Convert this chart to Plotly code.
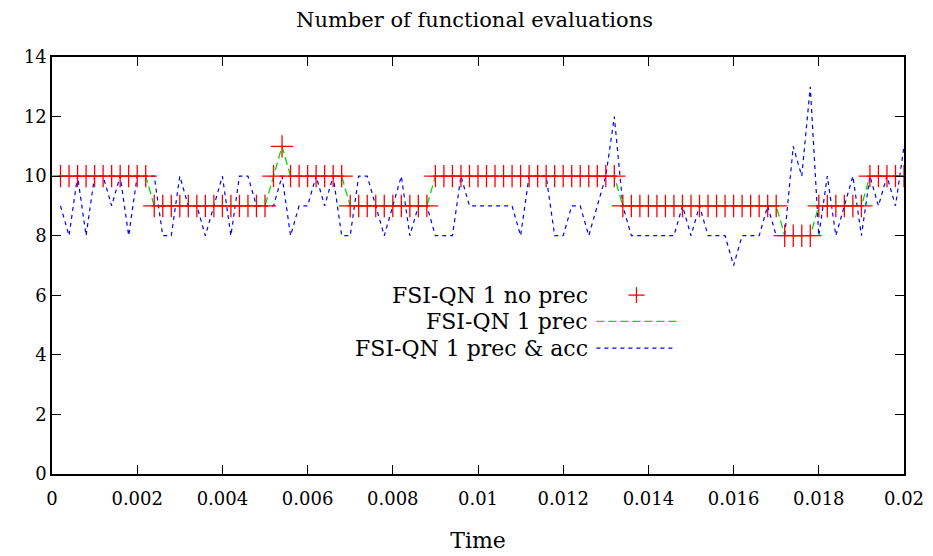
import plotly.graph_objects as go

# Time steps (s)
time = [round(0.0002 * i, 4) for i in range(1, 101)]

no_prec = ([10] * 11 + [9] * 14 + [10, 11] + [10] * 7 + [9] * 10 + [10] * 22 +
           [9] * 19 + [8] * 4 + [9] * 6 + [10] * 5)
prec = list(no_prec)
prec_acc = [9, 8, 10, 8, 10, 10, 9, 10, 8, 10,
            10, 10, 8, 8, 10, 9, 9, 8, 9, 10,
            8, 10, 10, 9, 9, 9, 10, 8, 9, 9,
            10, 9, 10, 8, 8, 10, 10, 9, 8, 9,
            10, 8, 9, 9, 8, 8, 8, 10, 9, 9,
            9, 9, 9, 9, 8, 10, 10, 10, 8, 8,
            9, 9, 8, 9, 10, 12, 9, 8, 8, 8,
            8, 8, 8, 9, 8, 9, 8, 8, 8, 7,
            8, 8, 8, 9, 8, 8, 11, 10, 13, 8,
            10, 8, 9, 10, 8, 10, 9, 10, 9, 11]

series_names = ["FSI-QN 1 no prec", "FSI-QN 1 prec", "FSI-QN 1 prec & acc"]
x_ticks = [0, 0.002, 0.004, 0.006, 0.008, 0.01, 0.012, 0.014, 0.016, 0.018, 0.02]
x_tick_text = ["0", "0.002", "0.004", "0.006", "0.008", "0.01", "0.012", "0.014", "0.016", "0.018", "0.02"]
y_ticks = [0, 2, 4, 6, 8, 10, 12, 14]

FONT = "DejaVu Serif"
RED, GREEN, BLUE = "#ff0000", "#00dd00", "#0000ff"

fig = go.Figure()
fig.add_trace(go.Scatter(x=time, y=prec, mode="lines", name=series_names[1],
                         line=dict(color=GREEN, width=1.3, dash="8px,4px")))
fig.add_trace(go.Scatter(x=time, y=prec_acc, mode="lines", name=series_names[2],
                         line=dict(color=BLUE, width=1.2, dash="4px,4px")))
fig.add_trace(go.Scatter(x=time, y=no_prec, mode="markers", name=series_names[0],
                         marker=dict(symbol="cross-thin", size=16,
                                     line=dict(color=RED, width=1.3))))

# Custom gnuplot-style key: text on the left, sample on the right
key_y = [0.429, 0.366, 0.302]
text_x = 0.631
s0, s1 = 0.639, 0.733
annotations = []
shapes = []
for name, ky in zip(series_names, key_y):
    annotations.append(dict(x=text_x, y=ky, xref="paper", yref="paper", text=name,
                            showarrow=False, xanchor="right", yanchor="middle",
                            font=dict(family=FONT, size=22, color="black")))
cx = (s0 + s1) / 2
shapes.append(dict(type="line", xref="paper", yref="paper", x0=cx - 0.0095, x1=cx + 0.0095,
                   y0=key_y[0], y1=key_y[0], line=dict(color=RED, width=1.3)))
shapes.append(dict(type="line", xref="paper", yref="paper", x0=cx, x1=cx,
                   y0=key_y[0] - 0.019, y1=key_y[0] + 0.019, line=dict(color=RED, width=1.3)))
shapes.append(dict(type="line", xref="paper", yref="paper", x0=s0, x1=s1,
                   y0=key_y[1], y1=key_y[1], line=dict(color=GREEN, width=1.3, dash="8px,4px")))
shapes.append(dict(type="line", xref="paper", yref="paper", x0=s0, x1=s1,
                   y0=key_y[2], y1=key_y[2], line=dict(color=BLUE, width=1.2, dash="4px,4px")))

fig.update_layout(
    width=933, height=556,
    margin=dict(l=44, r=37, t=49, b=90),
    paper_bgcolor="white", plot_bgcolor="white",
    showlegend=False,
    font=dict(family=FONT, size=18, color="black"),
    title=dict(text="Number of functional evaluations", x=0.5, xanchor="center",
               y=0.992, yanchor="top", yref="container",
               font=dict(family=FONT, size=21, color="black")),
    annotations=annotations,
    shapes=shapes,
    xaxis=dict(range=[0, 0.02], tickvals=x_ticks, ticktext=x_tick_text,
               ticks="inside", ticklen=9, tickwidth=1.3, tickcolor="black",
               ticklabelstandoff=8,
               showline=True, linecolor="black", linewidth=1.5, mirror="ticks",
               showgrid=False, zeroline=False,
               title=dict(text="Time", standoff=24, font=dict(family=FONT, size=22))),
    yaxis=dict(range=[0, 14], tickvals=y_ticks,
               ticks="inside", ticklen=9, tickwidth=1.3, tickcolor="black",
               showline=True, linecolor="black", linewidth=1.5, mirror="ticks",
               showgrid=False, zeroline=False),
)

fig.write_html("out.html")
